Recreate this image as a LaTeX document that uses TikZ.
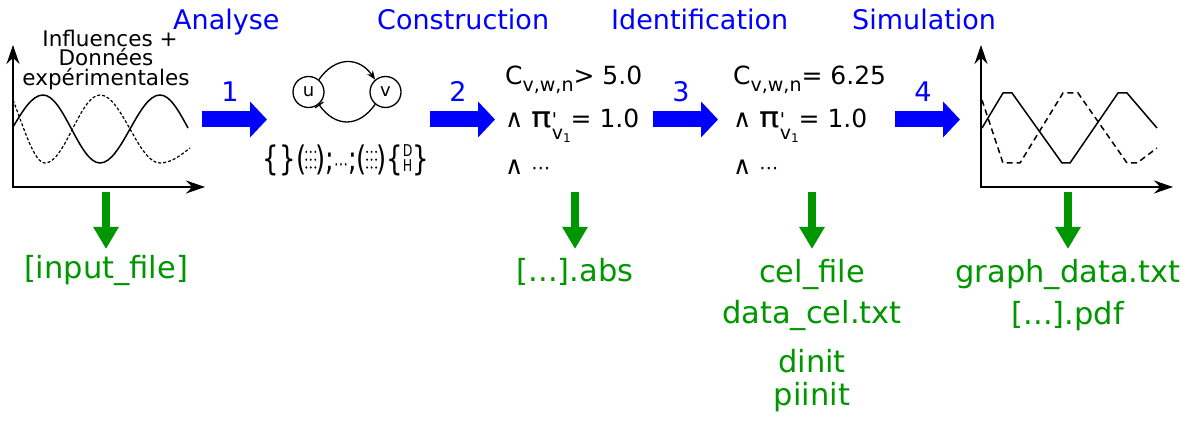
\documentclass[tikz,border=0pt]{standalone}
\usepackage{fontspec}
\setmainfont{DejaVu Sans}
\usetikzlibrary{arrows.meta, positioning, calc}

\definecolor{outgreen}{RGB}{0,150,0}
\newcommand{\lowtxt}[1]{\raisebox{-7pt}{\fontsize{19}{19}\selectfont #1}}
\newcommand{\piprime}{\scalebox{1.35}[1.15]{π}\rlap{\raisebox{1pt}{\fontsize{19}{19}\selectfont\textquotesingle}}\raisebox{-12pt}{\fontsize{19}{19}\selectfont v\raisebox{-3pt}{\fontsize{12}{12}\selectfont 1}}}
\newcommand{\dotgrid}{\tikz[baseline=-14pt]{\foreach \i in {0,1,2}{\foreach \j in {0,1,2}{\fill (\i*4.5pt,-\j*6pt) circle (1pt);}}}}

\begin{document}
\begin{tikzpicture}[x=1pt, y=1pt,
    title/.style={text=blue, font=\fontsize{27}{27}\selectfont, anchor=base west, inner sep=0pt},
    stepnum/.style={text=blue, font=\fontsize{27}{27}\selectfont, anchor=base, inner sep=0pt},
    bluearrow/.style={blue, line width=16pt, -{Triangle[length=17pt,width=35pt]}},
    greenarrow/.style={outgreen, line width=8pt, -{Triangle[length=22pt,width=24pt]}},
    outfile/.style={text=outgreen, font=\fontsize{30.5}{30.5}\selectfont, anchor=base, inner sep=0pt},
    formula/.style={font=\fontsize{25}{25}\selectfont, anchor=base west, inner sep=0pt},
    intext/.style={font=\fontsize{21.5}{21.5}\selectfont, anchor=base, inner sep=0pt},
    axis/.style={line width=2pt, {Stealth[length=19pt,width=13pt]}-{Stealth[length=19pt,width=13pt]}},
    gene/.style={draw, circle, line width=1.3pt, minimum size=31pt, inner sep=0pt, font=\fontsize{18}{18}\selectfont}]
    \useasboundingbox (0,0) rectangle (1183,-422);

    % titles of the steps
    \node[title] (tanalyse) at (173,-30) {Analyse};
    \node[title] (tconstr) at (377,-30) {Construction};
    \node[title] (tident) at (611,-30) {Identification};
    \node[title] (tsimul) at (852,-30) {Simulation};

    % input plot
    \node[intext] (in1) at (110,-47) {Influences +};
    \node[intext] (in2) at (106,-66) {Données};
    \node[intext] (in3) at (106,-86) {expérimentales};
    \draw[axis] (13,-45) -- (13,-187) -- (205,-187);
    \draw[line width=1.5pt] (13,-127) sin (43,-95) cos (71.5,-129) sin (100,-163) cos (130,-129) sin (160,-95) cos (188,-128);
    \draw[line width=1.2pt, dash pattern=on 3pt off 2pt] (13,-100) .. controls (24,-128) and (34,-163) .. (45,-163) cos (72.5,-129) sin (100,-95) cos (130,-129) sin (160,-163) cos (190,-148);

    % interaction graph
    \node[gene] (u) at (308.5,-92) {u};
    \node[gene] (v) at (385.5,-92) {v};
    \draw[line width=1.3pt, -{Stealth[length=9pt,width=7pt]}] (u.50) to[out=55, in=125, looseness=1.3] (v.130);
    \draw[line width=1.3pt, -{Bar[width=10pt]}] (v.230) to[out=235, in=305, looseness=1.3] (u.310);
    \node[inner sep=0pt] (sets) at (345.5,-160)
        {\scalebox{1}[1.3]{\fontsize{26}{26}\selectfont\{\kern1pt\}(\kern-1pt\dotgrid\kern-1pt);{\fontsize{14}{14}\selectfont ⋯};(\kern-1pt\dotgrid\kern-1pt)\{{\fontsize{12.5}{12.5}\selectfont\raisebox{-1pt}{\shortstack{D\\[-1pt]H}}}\}}};

    % formulas
    \node[formula] (c1) at (505,-85) {C\lowtxt{v,w,n}> 5.0};
    \node[formula] (p1) at (505,-128) {∧ \piprime= 1.0};
    \node[formula] (e1) at (505,-175) {∧ {\fontsize{19}{19}\selectfont ⋯}};
    \node[formula] (c2) at (733,-85) {C\lowtxt{v,w,n}= 6.25};
    \node[formula] (p2) at (733,-128) {∧ \piprime= 1.0};
    \node[formula] (e2) at (733,-175) {∧ {\fontsize{19}{19}\selectfont ⋯}};

    % simulated plot
    \draw[axis] (981,-45) -- (981,-187) -- (1173,-187);
    \draw[line width=1.5pt] (982,-128) -- (1003,-93) -- (1012,-93) -- (1062,-163) -- (1070,-163) -- (1118,-93) -- (1127,-93) -- (1157,-128);
    \draw[line width=1.5pt, dash pattern=on 6pt off 4pt] (982,-100) -- (1003,-163) -- (1020,-163) -- (1063,-93) -- (1078,-93) -- (1127,-163) -- (1137,-163) -- (1157,-148);

    % steps
    \foreach \n/\xs/\xe in {1/202/267, 2/430/495, 3/653/718, 4/895/960} {
        \coordinate (a\n s) at (\xs,-119.5);
        \coordinate (a\n e) at (\xe,-119.5);
        \draw[bluearrow] (a\n s) -- (a\n e);
        \node[stepnum] (n\n) at ($(a\n s)!0.43!(a\n e)+(0,17.5)$) {\n};
    }

    % output files
    \node[outfile] (infile) at (106,-278) {[input\_file]};
    \node[outfile] (absfile) at (575,-281) {[...].abs};
    \node[outfile] (celfile) at (812,-282) {cel\_file};
    \node[outfile] (datacel) at (812,-323) {data\_cel.txt};
    \node[outfile] (dinit) at (812,-372) {dinit};
    \node[outfile] (piinit) at (812,-405) {piinit};
    \node[outfile] (graphdata) at (1068,-282) {graph\_data.txt};
    \node[outfile] (pdffile) at (1068,-324) {[...].pdf};

    \foreach \g/\x in {1/106, 2/575, 3/812, 4/1068} {
        \coordinate (g\g s) at (\x,-192);
        \coordinate (g\g e) at (\x,-249);
        \draw[greenarrow] (g\g s) -- (g\g e);
    }
\end{tikzpicture}
\end{document}
